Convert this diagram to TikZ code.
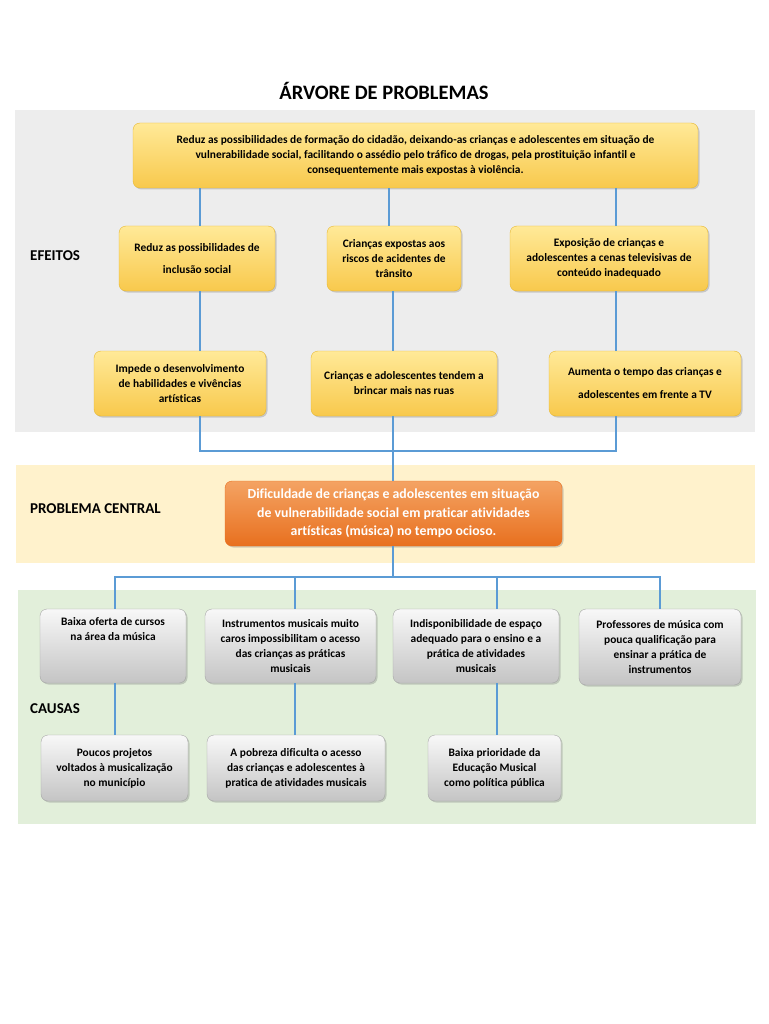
\documentclass[tikz,border=0pt]{standalone}
\usepackage{fontspec}
\setmainfont[Ligatures=NoCommon]{Carlito}
\usetikzlibrary{shadows}
\definecolor{bgGray}{HTML}{EDEDED}
\definecolor{bgCream}{HTML}{FFF2CC}
\definecolor{bgGreen}{HTML}{E2EFDA}
\definecolor{ylTop}{HTML}{FFE998}
\definecolor{ylBot}{HTML}{F8C94C}
\definecolor{ylEdge}{HTML}{E8B830}
\definecolor{orTop}{HTML}{F4A363}
\definecolor{orBot}{HTML}{E8701F}
\definecolor{gyTop}{HTML}{F8F8F8}
\definecolor{gyBot}{HTML}{C4C4C4}
\definecolor{gyEdge}{HTML}{A6A6A6}
\definecolor{link}{HTML}{5B9BD5}
\tikzset{
  box/.style={rounded corners=7pt, align=center, inner sep=2pt,
    font=\fontsize{11.4}{15}\selectfont\bfseries,
    drop shadow={shadow xshift=1.5pt, shadow yshift=-1.5pt, opacity=0.35}},
  ybox/.style={box, draw=ylEdge, top color=ylTop, bottom color=ylBot},
  gbox/.style={box, draw=gyEdge, top color=gyTop, bottom color=gyBot},
  obox/.style={box, draw=orBot, top color=orTop, bottom color=orBot, text=white,
    font=\fontsize{13.8}{18.5}\selectfont\bfseries},
  conn/.style={draw=link, line width=1.4pt},
  lbl/.style={anchor=west, inner sep=0pt, font=\fontsize{15}{17}\selectfont\bfseries}
}
\begin{document}
\begin{tikzpicture}[x=1pt,y=-1pt]
\useasboundingbox (0,0) rectangle (768,1024);
\fill[white] (0,0) rectangle (768,1024);
% bands
\fill[bgGray] (15,110) rectangle (755,432);
\fill[bgCream] (16,465) rectangle (755,563);
\fill[bgGreen] (18,590) rectangle (756,824);
% title and labels
\node (title) at (384,91) {\fontsize{20.5}{24}\selectfont\bfseries ÁRVORE DE PROBLEMAS};
\node[lbl] (efe) at (30,256) {EFEITOS};
\node[lbl] (pc) at (30,509) {PROBLEMA CENTRAL};
\node[lbl] (cau) at (30,709) {CAUSAS};
% effect boxes
\node[ybox, minimum width=565pt, minimum height=65pt] (top) at (415.5,155.5)
  {Reduz as possibilidades de formação do cidadão, deixando-as crianças e adolescentes em situação de\\
   vulnerabilidade social, facilitando o assédio pelo tráfico de drogas, pela prostituição infantil e\\
   consequentemente mais expostas à violência.};
\node[ybox, minimum width=156pt, minimum height=65pt] (A) at (197,258.5)
  {Reduz as possibilidades de\\[7pt]inclusão social};
\node[ybox, minimum width=134pt, minimum height=65pt] (B) at (394,258.5)
  {Crianças expostas aos\\riscos de acidentes de\\trânsito};
\node[ybox, minimum width=198pt, minimum height=65pt] (C) at (609,258.5)
  {Exposição de crianças e\\adolescentes a cenas televisivas de\\conteúdo inadequado};
\node[ybox, minimum width=172pt, minimum height=65pt] (D) at (180,383.5)
  {Impede o desenvolvimento\\de habilidades e vivências\\artísticas};
\node[ybox, minimum width=186pt, minimum height=65pt] (E) at (404,383.5)
  {Crianças e adolescentes tendem a\\brincar mais nas ruas};
\node[ybox, minimum width=192pt, minimum height=65pt] (F) at (645,383.5)
  {Aumenta o tempo das crianças e\\[8pt]adolescentes em frente a TV};
% central
\node[obox, minimum width=337pt, minimum height=65pt] (central) at (393.5,513.5)
  {Dificuldade de crianças e adolescentes em situação\\de vulnerabilidade social em praticar atividades\\artísticas (música) no tempo ocioso.};
% causes
\node[gbox, minimum width=146pt, minimum height=74pt] (G) at (113,646)
  {Baixa oferta de cursos\\na área da música\\\strut\\\strut};
\node[gbox, minimum width=171pt, minimum height=74pt] (H) at (290.5,646)
  {Instrumentos musicais muito\\caros impossibilitam o acesso\\das crianças as práticas\\musicais};
\node[gbox, minimum width=166pt, minimum height=74pt] (I) at (476,646)
  {Indisponibilidade de espaço\\adequado para o ensino e a\\prática de atividades\\musicais};
\node[gbox, minimum width=162pt, minimum height=76pt] (J) at (660,647)
  {Professores de música com\\pouca qualificação para\\ensinar a prática de\\instrumentos};
\node[gbox, minimum width=147pt, minimum height=66pt] (K) at (114.5,768)
  {Poucos projetos\\voltados à musicalização\\no município};
\node[gbox, minimum width=178pt, minimum height=66pt] (L) at (296,768)
  {A pobreza dificulta o acesso\\das crianças e adolescentes à\\pratica de atividades musicais};
\node[gbox, minimum width=133pt, minimum height=66pt] (M) at (494.5,768)
  {Baixa prioridade da\\Educação Musical\\como política pública};
% connector guides
\coordinate (xa) at (200,0);
\coordinate (xb) at (389,0);
\coordinate (xm) at (393,0);
\coordinate (xc) at (616,0);
\coordinate (ybr) at (0,451);
\coordinate (ybus) at (0,577);
\coordinate (xg) at (115,0);
\coordinate (xh) at (295,0);
\coordinate (xi) at (497,0);
\coordinate (xj) at (660,0);
% effect connectors
\draw[conn] (top.south -| xa) -- (A.north -| xa);
\draw[conn] (top.south -| xb) -- (B.north -| xb);
\draw[conn] (top.south -| xc) -- (C.north -| xc);
\draw[conn] (A.south -| xa) -- (D.north -| xa);
\draw[conn] (B.south -| xm) -- (E.north -| xm);
\draw[conn] (C.south -| xc) -- (F.north -| xc);
\draw[conn] (D.south -| xa) -- (xa |- ybr) -- (xc |- ybr) -- (F.south -| xc);
\draw[conn] (E.south -| xm) -- (central.north -| xm);
% cause connectors
\draw[conn] (central.south -| xm) -- (xm |- ybus);
\draw[conn] (G.north -| xg) -- (xg |- ybus) -- (xj |- ybus) -- (J.north -| xj);
\draw[conn] (xh |- ybus) -- (H.north -| xh);
\draw[conn] (xi |- ybus) -- (I.north -| xi);
\draw[conn] (G.south -| xg) -- (K.north -| xg);
\draw[conn] (H.south -| xh) -- (L.north -| xh);
\draw[conn] (I.south -| xi) -- (M.north -| xi);
\end{tikzpicture}
\end{document}
